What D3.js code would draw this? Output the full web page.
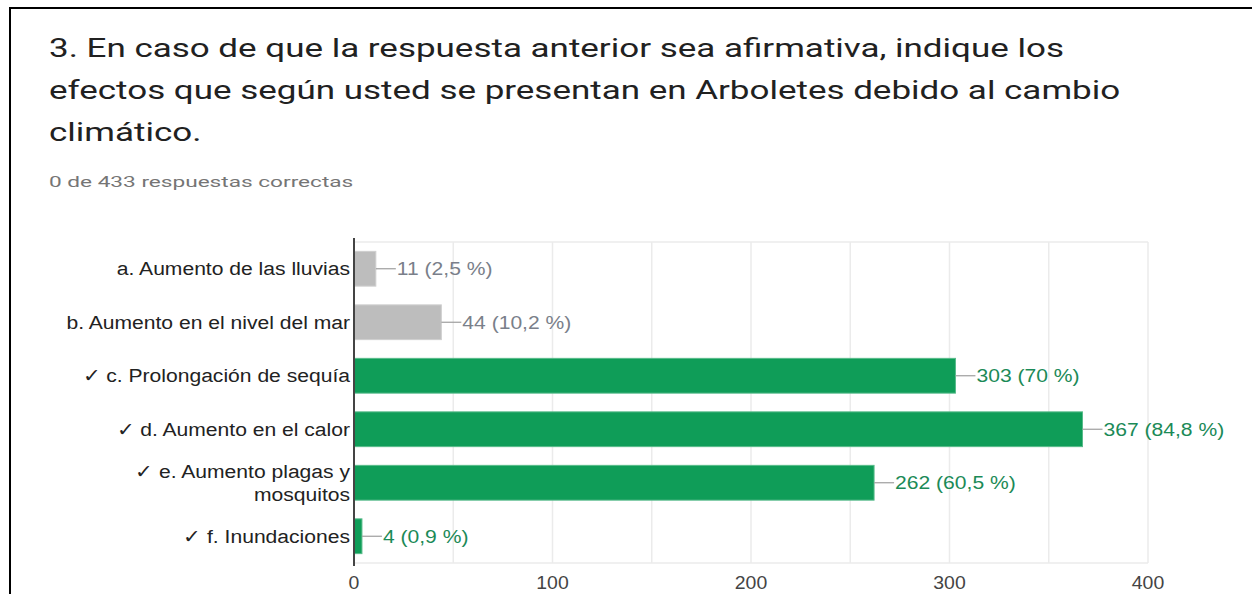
<!DOCTYPE html>
<html>
<head>
<meta charset="utf-8">
<script src="https://d3js.org/d3.v7.min.js"></script>
<style>
  body { margin: 0; background: #fff; }
  svg { display: block; }
</style>
</head>
<body>
<svg id="chart"></svg>
<script>
// data
var titleLines = ["3. En caso de que la respuesta anterior sea afirmativa, indique los",
                  "efectos que según usted se presentan en Arboletes debido al cambio",
                  "climático."];
var subtitle = "0 de 433 respuestas correctas";
var categories = [["a. Aumento de las lluvias"],
                  ["b. Aumento en el nivel del mar"],
                  ["✓ c. Prolongación de sequía"],
                  ["✓ d. Aumento en el calor"],
                  ["✓ e. Aumento plagas y", "mosquitos"],
                  ["✓ f. Inundaciones"]];
var counts = [11, 44, 303, 367, 262, 4];
var percents = ["2,5", "10,2", "70", "84,8", "60,5", "0,9"];
var correct = [false, false, true, true, true, true];
var xTicks = [0, 100, 200, 300, 400];

var W = 1252, H = 594;
var svg = d3.select('#chart').attr('width', W).attr('height', H);

// the screenshot is wider than it is tall, so text gets a horizontal stretch
function stretch(sel, sx, ax) {
    sel.attr('transform', 'translate(' + ax + ',0) scale(' + sx + ',1) translate(' + (-ax) + ',0)');
}

svg.append('rect').attr('width', W).attr('height', H).attr('fill', '#fff');
// black frame of the screenshot
svg.append('path')
   .attr('d', 'M10,' + H + ' V8 H' + W)
   .attr('fill', 'none').attr('stroke', '#000').attr('stroke-width', 2);

// title
svg.selectAll('.title')
   .data(titleLines)
   .enter().append('text')
   .attr('class', 'title')
   .attr('x', 49)
   .attr('y', (d, i) => 57 + i * 42)
   .style('font-family', 'Roboto, Arial, sans-serif')
   .style('font-size', '26.5px')
   .attr('fill', '#212121')
   .text(d => d)
   .call(stretch, 1.32, 49);

svg.append('text')
   .attr('x', 49).attr('y', 187)
   .style('font-family', 'Roboto, Arial, sans-serif')
   .style('font-size', '15.5px')
   .attr('fill', '#757575')
   .text(subtitle)
   .call(stretch, 1.46, 49);

// scales
var x = d3.scaleLinear().domain([0, 400]).range([354, 1148]);
var y = d3.scaleBand().domain(d3.range(counts.length)).range([242, 563]).paddingInner(0.35).paddingOuter(0.175);

var g = svg.append('g');

// grid
g.selectAll('.grid')
 .data(d3.range(50, 401, 50))
 .enter().append('line')
 .attr('x1', d => x(d)).attr('x2', d => x(d))
 .attr('y1', 242).attr('y2', 563)
 .attr('stroke', '#ebebeb').attr('stroke-width', 1.5);
g.append('line')
 .attr('x1', x(0)).attr('x2', x(400))
 .attr('y1', 242).attr('y2', 242)
 .attr('stroke', '#ebebeb').attr('stroke-width', 1.5);
g.append('line')
 .attr('x1', x(0)).attr('x2', x(400))
 .attr('y1', 563).attr('y2', 563)
 .attr('stroke', '#ebebeb').attr('stroke-width', 1.5);

// bars
g.selectAll('.bar')
 .data(counts)
 .enter().append('rect')
 .attr('class', 'bar')
 .attr('x', x(0))
 .attr('y', (d, i) => y(i))
 .attr('width', d => x(d) - x(0))
 .attr('height', y.bandwidth())
 .attr('fill', (d, i) => correct[i] ? '#0f9d58' : '#bdbdbd')
 .attr('stroke', (d, i) => correct[i] ? '#57bb8a' : '#cfcfcf')
 .attr('stroke-width', 1);

// leader lines + value labels
g.selectAll('.lead')
 .data(counts)
 .enter().append('line')
 .attr('x1', d => x(d)).attr('x2', d => x(d) + 20)
 .attr('y1', (d, i) => y(i) + y.bandwidth() / 2)
 .attr('y2', (d, i) => y(i) + y.bandwidth() / 2)
 .attr('stroke', '#9e9e9e').attr('stroke-width', 1.2);

g.selectAll('.val')
 .data(counts)
 .enter().append('text')
 .attr('x', d => x(d) + 21)
 .attr('y', (d, i) => y(i) + y.bandwidth() / 2)
 .attr('dy', '0.35em')
 .style('font-family', 'Arial, "Liberation Sans", sans-serif')
 .style('font-size', '18.5px')
 .attr('fill', (d, i) => correct[i] ? '#1b8a57' : '#7a7f8a')
 .text((d, i) => d + ' (' + percents[i] + ' %)')
 .each(function(d) { d3.select(this).call(stretch, 1.14, x(d) + 21); });

// axis line
g.append('line')
 .attr('x1', x(0)).attr('x2', x(0))
 .attr('y1', 238).attr('y2', 566)
 .attr('stroke', '#444').attr('stroke-width', 2);

// category labels
var cat = g.selectAll('.cat')
 .data(categories)
 .enter().append('text')
 .attr('text-anchor', 'end')
 .style('font-family', 'Arial, "Liberation Sans", sans-serif')
 .style('font-size', '19px')
 .attr('fill', '#222')
 .call(stretch, 1.11, 350);
cat.selectAll('tspan')
 .data((d, i) => d.map((t, j) => ({t: t, j: j, n: d.length, i: i})))
 .enter().append('tspan')
 .attr('x', 350)
 .attr('y', d => y(d.i) + y.bandwidth() / 2 + (d.j - (d.n - 1) / 2) * 23)
 .attr('dy', '0.35em')
 .text(d => d.t);

// x axis ticks
g.selectAll('.tick')
 .data(xTicks)
 .enter().append('text')
 .attr('x', d => x(d))
 .attr('y', 589)
 .attr('text-anchor', 'middle')
 .style('font-family', 'Arial, "Liberation Sans", sans-serif')
 .style('font-size', '18px')
 .attr('fill', '#444')
 .text(d => d)
 .each(function(d) { d3.select(this).call(stretch, 1.08, x(d)); });
</script>
</body>
</html>
